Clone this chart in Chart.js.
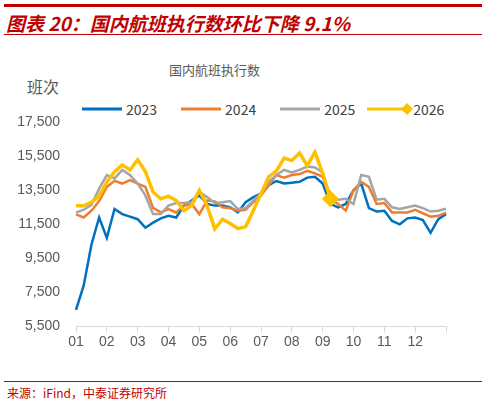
<!DOCTYPE html>
<html><head><meta charset="utf-8">
<script src="https://cdn.jsdelivr.net/npm/chart.js@4"></script>
<style>
body{margin:0;width:488px;height:406px;background:#fff;position:relative;font-family:"Noto Sans CJK SC",sans-serif;overflow:hidden}
.abs{position:absolute}
</style></head><body>
<div class="abs" style="left:4px;top:4px;width:478px;height:3px;background:#c00000"></div>
<div class="abs" style="left:6px;top:9px;font-size:19px;font-weight:bold;font-style:italic;color:#c00000;white-space:nowrap">图表 20：国内航班执行数环比下降 9.1%</div>
<div class="abs" style="left:4px;top:34px;width:478px;height:1px;background:#c00000"></div>
<div class="abs" style="left:169px;top:60px;font-size:13px;color:#595959">国内航班执行数</div>
<div class="abs" style="left:27px;top:74px;font-size:16px;color:#595959">班次</div>
<div class="abs" style="left:82px;top:99px;font-size:14px;color:#404040;white-space:nowrap;display:flex;align-items:center">
<svg width="40" height="8"><line x1="0" y1="4" x2="40" y2="4" stroke="#0070c0" stroke-width="3"/></svg><span style="margin:0 24px 0 4px">2023</span>
<svg width="40" height="8"><line x1="0" y1="4" x2="40" y2="4" stroke="#ed7d31" stroke-width="3"/></svg><span style="margin:0 24px 0 4px">2024</span>
<svg width="40" height="8"><line x1="0" y1="4" x2="40" y2="4" stroke="#a5a5a5" stroke-width="3"/></svg><span style="margin:0 12px 0 4px">2025</span>
<svg width="46" height="12"><line x1="0" y1="6" x2="44" y2="6" stroke="#ffc000" stroke-width="3"/><polygon points="40,0 46,6 40,12 34,6" fill="#ffc000"/></svg><span style="margin:0 0 0 0">2026</span>
</div>
<canvas id="c" class="abs" width="488" height="247" style="left:0;top:106px;width:488px;height:247px"></canvas>
<div class="abs" style="left:4px;top:381px;width:478px;height:1px;background:#c00000"></div>
<div class="abs" style="left:7px;top:384px;font-size:12px;color:#c00000">来源：iFind，中泰证券研究所</div>
<script>
const months=['01','02','03','04','05','06','07','08','09','10','11','12'];
const labels=[];for(let i=0;i<49;i++)labels.push(i%4===0&&i<48?months[i/4]:'');
const s2023=[6460,7900,10300,11900,10700,12400,12100,11950,11800,11300,11600,11850,12000,11900,12600,12900,13200,12700,12600,12600,12500,12200,12800,13100,13300,13800,14050,13900,13950,14000,14250,14300,13900,12700,12500,12700,13500,13900,12450,12250,12300,11700,11500,11850,11900,11750,11000,11800,12100];
const s2024=[12080,11900,12300,12870,13700,14060,13900,14100,13900,13700,12470,12200,12400,12200,12600,12700,12100,12900,12850,12500,12450,12300,12350,12800,13200,13800,14400,14250,14400,14460,14650,14500,14300,13000,12700,12300,13500,14000,13700,12700,12750,12200,12200,12200,12350,12150,11950,12000,12190];
const s2025=[12190,12360,12650,13600,14400,14200,14700,14400,13900,13200,12100,12100,12600,12750,12750,12800,13400,13100,12750,12800,12870,12400,12450,12900,13300,14000,14400,14700,14550,14700,14900,14850,14550,13100,12950,13000,12700,14400,14300,12950,13000,12500,12400,12500,12600,12450,12250,12300,12420];
const s2026=[12590,12590,12800,13160,14000,14600,15000,14700,15300,14600,13400,13000,13160,12900,12300,12600,13500,12600,11230,11800,11550,11250,11350,12300,13300,14300,14650,15400,15250,15700,14950,15750,14500,13000];
const ds=(d,c,w,extra)=>Object.assign({data:d,borderColor:c,backgroundColor:c,borderWidth:w,pointRadius:0,tension:0},extra||{});
const last=s2026.length-1;
new Chart(document.getElementById('c'),{type:'line',
data:{labels,datasets:[
ds(s2026,'#ffc000',3.5,{pointStyle:'rectRot',pointRadius:s2026.map((v,i)=>i===last?6:0)}),
ds(s2025,'#a5a5a5',2.5),ds(s2024,'#ed7d31',2.5),ds(s2023,'#0070c0',2.5)]},
options:{responsive:false,animation:false,devicePixelRatio:1,
layout:{padding:{top:10,right:42,left:0,bottom:0}},
plugins:{legend:{display:false},tooltip:{enabled:false}},
scales:{
y:{min:5500,max:17500,ticks:{stepSize:2000,color:'#595959',font:{size:14,family:'Liberation Sans'},padding:8},grid:{display:false},border:{display:false},afterFit:s=>{s.width=76}},
x:{ticks:{autoSkip:false,maxRotation:0,color:'#595959',font:{size:14,family:'Liberation Sans'},padding:2,callback:(v,i)=>labels[i]},
grid:{drawOnChartArea:false,tickLength:6,color:(c)=>(c.index%4===0)?'#d9d9d9':'rgba(0,0,0,0)'},border:{color:'#d9d9d9'}}
}}});
</script>
</body></html>
